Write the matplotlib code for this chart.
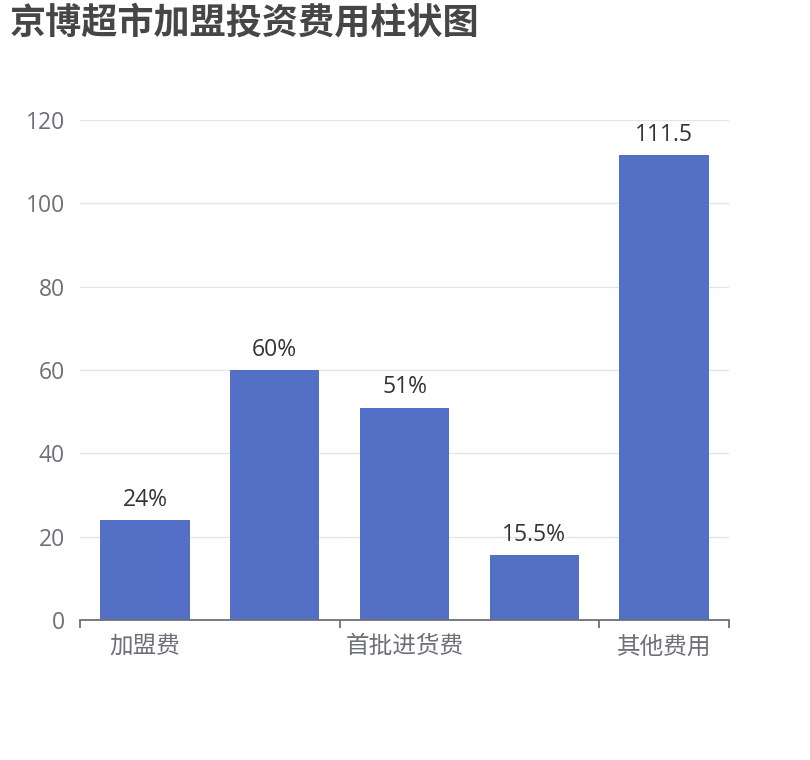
import matplotlib.pyplot as plt

plt.rcParams['font.family'] = ['Open Sans', 'Noto Sans CJK SC', 'DejaVu Sans']

# data
categories = ['加盟费', '', '首批进货费', '', '其他费用']
values = [24, 60, 51, 15.5, 111.5]
labels = ['24%', '60%', '51%', '15.5%', '111.5']
yticks = [0, 20, 40, 60, 80, 100, 120]

fig = plt.figure(figsize=(8.1, 7.6), dpi=100)
ax = fig.add_axes([80 / 810, 1 - 620 / 760, 649 / 810, 500 / 760])

x = list(range(len(values)))
bars = ax.bar(x, values, width=0.69, color='#5470c6', zorder=3)

for b, t in zip(bars, labels):
    ax.annotate(t, (b.get_x() + b.get_width() / 2, b.get_height()),
                xytext=(0, 6), textcoords='offset points',
                ha='center', va='bottom', fontsize=16.5, color='#333333')

ax.set_xlim(-0.5, len(values) - 0.5)
ax.set_ylim(0, 120)
ax.set_yticks(yticks)
ax.yaxis.grid(True, color='#E0E6F1', linewidth=1, zorder=0)
ax.tick_params(axis='y', length=0, pad=11, labelsize=16.5, labelcolor='#6E7079')

# labels only on every other category, ticks at the left boundary of those
ax.set_xticks([0, 2, 4])
ax.set_xticklabels([categories[0], categories[2], categories[4]])
ax.set_xticks([-0.5, 1.5, 3.5, 4.5], minor=True)
ax.tick_params(axis='x', which='major', length=0, pad=11, labelsize=17,
               labelcolor='#6E7079')
ax.tick_params(axis='x', which='minor', length=6, width=1.3, color='#6E7079')

for s in ['top', 'right', 'left']:
    ax.spines[s].set_visible(False)
ax.spines['bottom'].set_color('#6E7079')
ax.spines['bottom'].set_linewidth(1.3)
ax.spines['bottom'].set_zorder(4)

fig.text(10 / 810, 1 - 25 / 760, '京博超市加盟投资费用柱状图', fontsize=26,
         fontweight='bold', color='#464646', ha='left', va='center')

fig.savefig('out.png', dpi=100)
